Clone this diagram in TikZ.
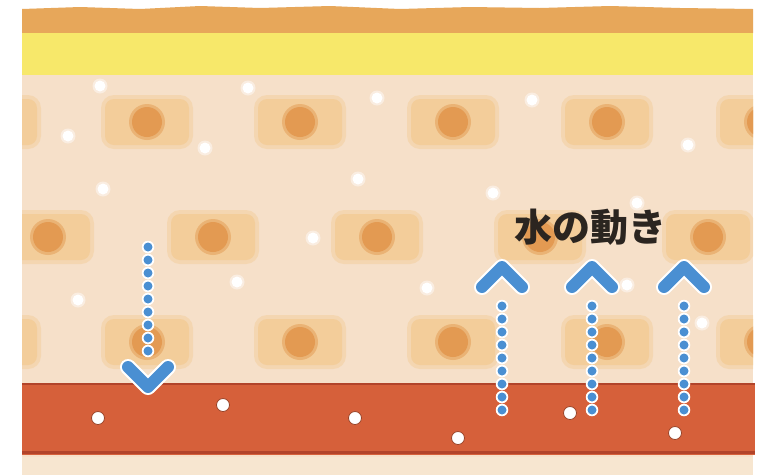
\documentclass[tikz,border=0pt]{standalone}
\usepackage{fontspec}
\newfontfamily\jpfont{Noto Sans CJK JP}
\definecolor{skin}{HTML}{F6E0C9}
\definecolor{horny}{HTML}{E7A75A}
\definecolor{granular}{HTML}{F7E86A}
\definecolor{dermis}{HTML}{D6603A}
\definecolor{dermisedge}{HTML}{B2442A}
\definecolor{strip}{HTML}{F7E6D0}
\definecolor{cellfill}{HTML}{F3CB95}
\definecolor{nucleus}{HTML}{E39A52}
\definecolor{flowblue}{HTML}{4A8FD2}
\definecolor{textdark}{HTML}{2B2520}
\definecolor{dotedge}{HTML}{9A4428}
\tikzset{
  pics/skincell/.style={code={
    \fill[cellfill, opacity=0.45, rounded corners=13pt] (-46,-27) rectangle (46,27);
    \fill[cellfill, opacity=0.8, rounded corners=9pt] (-42,-23) rectangle (42,23);
    \fill[nucleus, opacity=0.5] (0,0) circle (18);
    \fill[nucleus] (0,0) circle (15);
  }},
  halodots/.style={draw=white, line width=12.5pt, line cap=round, dash pattern=on 0pt off 13pt},
  flowdots/.style={draw=flowblue, line width=9pt, line cap=round, dash pattern=on 0pt off 13pt},
  halochev/.style={draw=white, line width=16pt, line cap=round, line join=round},
  flowchev/.style={draw=flowblue, line width=12pt, line cap=round, line join=round},
  spot/.style={fill=white},
  bloodspot/.style={fill=white, draw=dotedge, line width=0.8pt},
}
\begin{document}
\begin{tikzpicture}[x=1pt,y=-1pt]
\useasboundingbox (0,0) rectangle (763,475);
\fill[white] (0,0) rectangle (763,475);

% epidermis base
\fill[skin] (22,33) rectangle (753,457);
% horny layer with a rough upper edge
\fill[horny] (22,9) -- (80,7) -- (140,9) -- (200,6) -- (260,8) -- (330,6) -- (400,9)
  -- (470,7) -- (540,8) -- (610,6) -- (680,8) -- (753,9) -- (753,33) -- (22,33) -- cycle;
% granular layer
\fill[granular] (22,33) rectangle (753,75);

% cells of the spinous layer
\begin{scope}
  \clip (22,75) rectangle (753,383);
  \foreach \x in {-5,147,300,453,607,762} {
    \pic at (\x,122) {skincell};
    \pic at (\x,342) {skincell};
  }
  \foreach \x in {48,213,377,540,708} {
    \pic at (\x,237) {skincell};
  }
\end{scope}

% water droplets in the epidermis
\foreach \p in {(100,86),(248,88),(377,98),(532,100),(68,136),(205,148),(688,145),
  (103,189),(358,179),(493,193),(637,203),(313,238),(237,282),(78,300),(427,288),
  (627,285),(702,323)} {
  \fill[white, opacity=0.45] \p circle (7.5);
  \fill[spot] \p circle (5.5);
}

% dermis band
\fill[dermis] (22,383) rectangle (755,455);
\draw[dermisedge, line width=2pt] (22,384) -- (755,384);
\draw[dermisedge, line width=3pt] (22,452) -- (755,452);
\fill[strip] (22,457) rectangle (753,475);

% water droplets in the dermis
\foreach \p in {(98,418),(223,405),(355,418),(458,438),(570,413),(675,433)} {
  \fill[bloodspot] \p circle (6.5);
}

% flow arrows: dotted shafts with chevron heads
\coordinate (d1top) at (148,247);
\coordinate (d1bot) at (148,362);
\coordinate (u1bot) at (502,410);
\coordinate (u1top) at (502,295);
\coordinate (u2bot) at (592,410);
\coordinate (u2top) at (592,295);
\coordinate (u3bot) at (684,410);
\coordinate (u3top) at (684,295);

\foreach \a/\b in {d1top/d1bot,u1bot/u1top,u2bot/u2top,u3bot/u3top} {
  \draw[halodots] (\a) -- (\b);
}
\draw[halochev] (128,367) -- (148,387) -- (168,367);
\foreach \x in {502,592,684} {
  \draw[halochev] (\x-20,287) -- (\x,267) -- (\x+20,287);
}
\foreach \a/\b in {d1top/d1bot,u1bot/u1top,u2bot/u2top,u3bot/u3top} {
  \draw[flowdots] (\a) -- (\b);
}
\draw[flowchev] (128,367) -- (148,387) -- (168,367);
\foreach \x in {502,592,684} {
  \draw[flowchev] (\x-20,287) -- (\x,267) -- (\x+20,287);
}

% label
\node[text=textdark, inner sep=0pt, font=\jpfont\bfseries\fontsize{38}{40}\selectfont] (label) at (590,227) {水の動き};
\end{tikzpicture}
\end{document}
